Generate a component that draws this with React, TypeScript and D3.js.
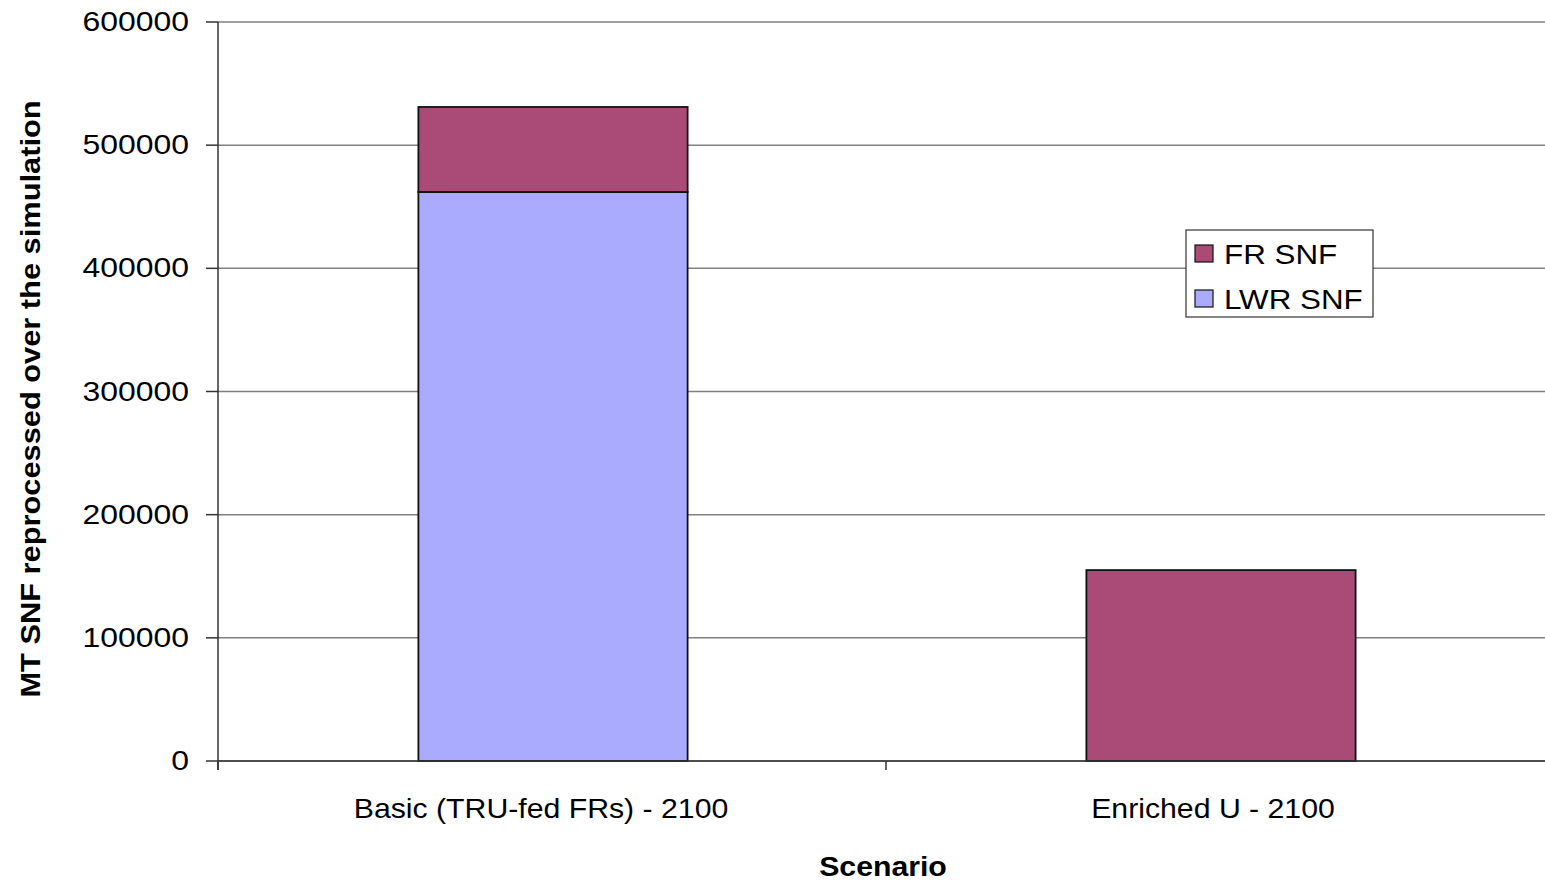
import React from "react";
import * as d3 from "d3";

const categories = ["Basic (TRU-fed FRs) - 2100", "Enriched U - 2100"];
const seriesNames = ["LWR SNF", "FR SNF"];
const lwrValues = [462000, 0];
const frValues = [69000, 155000];
const yTicks = [0, 100000, 200000, 300000, 400000, 500000, 600000];
const colors: Record<string, string> = { "LWR SNF": "#AAAAFF", "FR SNF": "#AA4A77" };

const W = 1545;
const H = 881;
const left = 218;
const right = 1554;
const top = 22;
const bottom = 761;
const FONT = "Liberation Sans, Arial, sans-serif";
const SX = 1.1;

function SText(props: { x: number; y: number; anchor?: string; size?: number; weight?: string; rotate?: number; sx?: number; children: React.ReactNode }) {
  const { x, y, anchor = "start", size = 28, weight = "normal", rotate = 0, sx = SX, children } = props;
  return (
    <text
      transform={`translate(${x},${y}) rotate(${rotate}) scale(${sx},1)`}
      textAnchor={anchor}
      fontFamily={FONT}
      fontSize={size}
      fontWeight={weight}
      fill="#000"
    >
      {children}
    </text>
  );
}

export default function App() {
  const x = d3.scaleBand<string>().domain(categories).range([left, right]).paddingInner(0).paddingOuter(0);
  const y = d3.scaleLinear().domain([0, 600000]).range([bottom, top]);
  const barW = x.bandwidth() * 0.403;

  const rows = categories.map((c, i) => ({ category: c, "LWR SNF": lwrValues[i], "FR SNF": frValues[i] }));
  const stack = d3.stack<any>().keys(seriesNames)(rows);

  return (
    <svg width={W} height={H} style={{ position: "absolute", left: 0, top: 0, background: "#fff" }}>
      {/* gridlines */}
      {yTicks.map((t) => (
        <line key={"g" + t} x1={left} x2={W} y1={y(t)} y2={y(t)} stroke="#808080" strokeWidth={1.5} />
      ))}
      {/* bars */}
      {stack.map((s) => (
        <g key={s.key}>
          {s.map((d, i) =>
            d[1] - d[0] > 0 ? (
              <rect
                key={i}
                x={(x(categories[i]) as number) + x.bandwidth() / 2 - barW / 2 + 1}
                y={y(d[1])}
                width={barW}
                height={y(d[0]) - y(d[1])}
                fill={colors[s.key]}
                stroke="#111"
                strokeWidth={1.8}
              />
            ) : null
          )}
        </g>
      ))}
      {/* axes */}
      <line x1={left} x2={left} y1={top} y2={bottom + 9} stroke="#333" strokeWidth={1.5} />
      <line x1={left} x2={W} y1={bottom} y2={bottom} stroke="#333" strokeWidth={1.5} />
      {yTicks.map((t) => (
        <line key={"t" + t} x1={left - 12} x2={left} y1={y(t)} y2={y(t)} stroke="#333" strokeWidth={1.5} />
      ))}
      {[0, 1].map((i) => (
        <line key={"xt" + i} x1={left + i * x.bandwidth()} x2={left + i * x.bandwidth()} y1={bottom} y2={bottom + 9} stroke="#333" strokeWidth={1.5} />
      ))}
      {/* y tick labels */}
      {yTicks.map((t) => (
        <SText key={"l" + t} x={189} y={y(t) + 9} anchor="end" sx={1.14}>
          {String(t)}
        </SText>
      ))}
      {/* category labels */}
      {categories.map((c, i) => (
        <SText key={c} x={(x(c) as number) + x.bandwidth() / 2 - (i === 0 ? 11 : 7)} y={818} anchor="middle" sx={1.08}>
          {c}
        </SText>
      ))}
      {/* axis titles */}
      <SText x={883} y={876} anchor="middle" weight="bold" sx={1.08}>
        Scenario
      </SText>
      <SText x={40} y={399} anchor="middle" weight="bold" rotate={-90} sx={1.1}>
        MT SNF reprocessed over the simulation
      </SText>
      {/* legend */}
      <g>
        <rect x={1186} y={230} width={187} height={87} fill="#fff" stroke="#333" strokeWidth={1.2} />
        {["FR SNF", "LWR SNF"].map((k, i) => (
          <g key={k}>
            <rect x={1195} y={245 + i * 45} width={18} height={17} fill={colors[k]} stroke="#111" strokeWidth={1.2} />
            <SText x={1224} y={264 + i * 45} sx={1.12}>
              {k}
            </SText>
          </g>
        ))}
      </g>
    </svg>
  );
}
